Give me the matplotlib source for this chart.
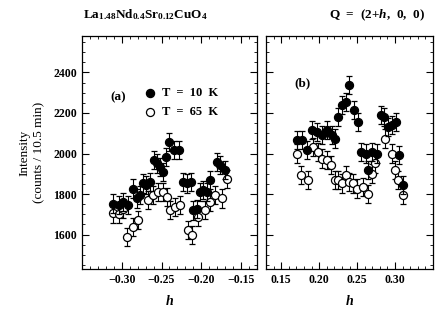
import matplotlib
matplotlib.use("Agg")
import matplotlib.pyplot as plt
from matplotlib.ticker import MultipleLocator

plt.rcParams["font.family"] = "Liberation Serif"
plt.rcParams["font.weight"] = "bold"
plt.rcParams["mathtext.fontset"] = "custom"
plt.rcParams["mathtext.rm"] = "Liberation Serif:bold"
plt.rcParams["mathtext.it"] = "Liberation Serif:bold:italic"

# ---- panel (a): h < 0 ----
h_a_10 = [-0.311, -0.304, -0.298, -0.292, -0.2855, -0.281, -0.277, -0.273, -0.269,
          -0.2645, -0.260, -0.256, -0.252, -0.2486, -0.2444, -0.2403, -0.2343, -0.2277,
          -0.2226, -0.2176, -0.2134, -0.210, -0.2058, -0.2017, -0.1975, -0.1933,
          -0.189, -0.1807, -0.1765, -0.170]
i_a_10 = [1753, 1745, 1761, 1745, 1827, 1778, 1794, 1852, 1843,
          1860, 1967, 1951, 1934, 1909, 1983, 2057, 2016, 2016,
          1860, 1852, 1860, 1719, 1728, 1811, 1819, 1811,
          1868, 1959, 1943, 1918]

h_a_65 = [-0.311, -0.304, -0.298, -0.2938, -0.2855, -0.279, -0.2667, -0.2604, -0.254,
          -0.2478, -0.2437, -0.2394, -0.233, -0.2268, -0.2164, -0.2121, -0.2038,
          -0.1954, -0.189, -0.1828, -0.1744, -0.168]
i_a_65 = [1704, 1700, 1728, 1588, 1638, 1671, 1769, 1794, 1811,
          1811, 1786, 1720, 1736, 1745, 1621, 1597, 1687,
          1720, 1761, 1794, 1778, 1876]

# ---- panel (b): h > 0 ----
h_b_10 = [0.1704, 0.177, 0.1836, 0.1902, 0.1968, 0.2034, 0.210, 0.2166, 0.2209,
          0.2253, 0.2297, 0.2354, 0.2397, 0.2459, 0.2508, 0.2552, 0.2617, 0.2648,
          0.2692, 0.2758, 0.2811, 0.2855, 0.2903, 0.2956, 0.3009, 0.3056, 0.3109]
i_b_10 = [2066, 2066, 2016, 2115, 2107, 2090, 2115, 2090, 2074,
          2181, 2239, 2255, 2337, 2214, 2156, 2008, 2000, 1918,
          2008, 2000, 2189, 2181, 2131, 2140, 2156, 1992, 1844]

h_b_65 = [0.1704, 0.1757, 0.1857, 0.1923, 0.1989, 0.2034, 0.210, 0.2152, 0.2209,
          0.2253, 0.2297, 0.2354, 0.2397, 0.2442, 0.2495, 0.2582, 0.2648, 0.2692,
          0.2736, 0.2868, 0.2956, 0.300, 0.3043, 0.3109]
i_b_65 = [2000, 1893, 1868, 2033, 2008, 1975, 1967, 1942, 1868,
          1868, 1852, 1893, 1860, 1852, 1827, 1835, 1802, 1901,
          1951, 2074, 2000, 1918, 1868, 1794]

ERR = 45

fig = plt.figure(figsize=(4.43, 3.19), dpi=100)
axa = fig.add_axes([82 / 443, 50 / 319, 175 / 443, 233 / 319])
axb = fig.add_axes([266 / 443, 50 / 319, 167 / 443, 233 / 319])


def series(ax, h, i, filled):
    ax.errorbar(h, i, yerr=ERR, fmt="o", ms=5.8, mec="black",
                mfc="black" if filled else "white", mew=0.9,
                ecolor="black", elinewidth=0.8, capsize=2.5, capthick=0.8,
                zorder=3 if filled else 2)


for ax in (axa, axb):
    ax.set_ylim(1430, 2580)
    ax.yaxis.set_major_locator(MultipleLocator(200))
    ax.yaxis.set_minor_locator(MultipleLocator(50))
    ax.xaxis.set_major_locator(MultipleLocator(0.05))
    ax.xaxis.set_minor_locator(MultipleLocator(0.01))
    ax.tick_params(which="both", direction="in", top=True, right=True, labelsize=8.5)
    ax.tick_params(which="major", length=5, width=0.8)
    ax.tick_params(which="minor", length=2.5, width=0.6)
    for s in ax.spines.values():
        s.set_linewidth(0.9)
    ax.set_xlabel(r"$h$", fontsize=10, labelpad=6)

series(axa, h_a_65, i_a_65, False)
series(axa, h_a_10, i_a_10, True)
series(axb, h_b_65, i_b_65, False)
series(axb, h_b_10, i_b_10, True)

axa.set_xlim(-0.35, -0.13)
axa.set_xticks([-0.30, -0.25, -0.20, -0.15])
axa.set_xticklabels(["\u22120.30", "\u22120.25", "\u22120.20", "\u22120.15"])
axb.set_xlim(0.13, 0.35)
axb.set_xticks([0.15, 0.20, 0.25, 0.30])
axb.set_xticklabels(["0.15", "0.20", "0.25", "0.30"])
axb.tick_params(axis="y", labelleft=False)

axa.set_ylabel("Intensity\n(counts / 10.5 min)", fontsize=9.5, labelpad=6,
               linespacing=1.3)

# panel labels and legend
axa.text(0.206, 0.738, "(a)", transform=axa.transAxes, fontsize=9.5,
         ha="center", va="center")
axb.text(0.216, 0.798, "(b)", transform=axb.transAxes, fontsize=9.5,
         ha="center", va="center")
axa.plot([0.389], [0.755], "o", ms=5.8, mfc="black", mec="black",
         transform=axa.transAxes)
axa.plot([0.389], [0.672], "o", ms=5.8, mfc="white", mec="black", mew=0.9,
         transform=axa.transAxes)
axa.text(0.46, 0.755, "T  =  10  K", transform=axa.transAxes, fontsize=9,
         va="center")
axa.text(0.46, 0.672, "T  =  65  K", transform=axa.transAxes, fontsize=9,
         va="center")

fig.text(83 / 443, 1 - 18 / 319, r"La$_{1.48}$Nd$_{0.4}$Sr$_{0.12}$CuO$_4$",
         fontsize=9.5, ha="left", va="baseline")
fig.text(425 / 443, 1 - 18 / 319, r"Q  =  (2+$h$,  0,  0)",
         fontsize=9.5, ha="right", va="baseline")

fig.savefig("out.png", dpi=100, facecolor="white")
